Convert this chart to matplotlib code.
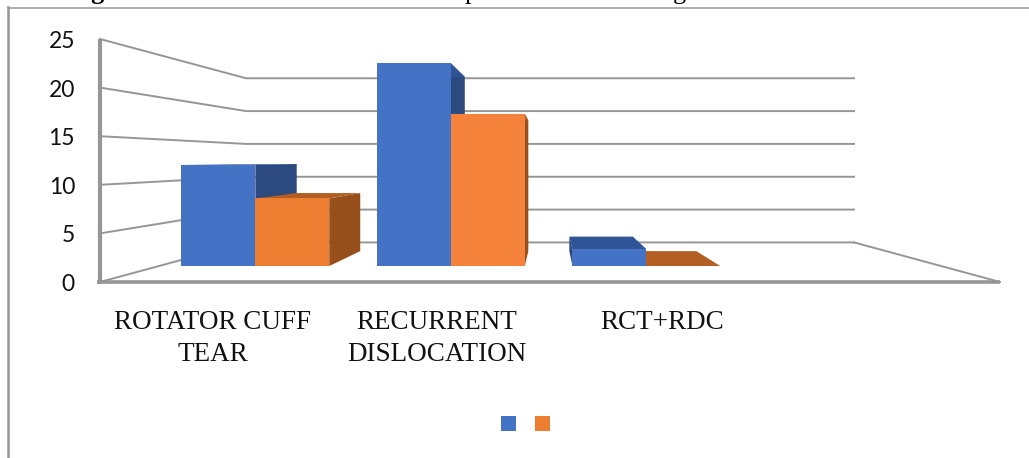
#!/usr/bin/env python3
import matplotlib
matplotlib.use("Agg")
import matplotlib.pyplot as plt
from matplotlib.patches import Polygon, Rectangle

categories = ["ROTATOR CUFF\nTEAR", "RECURRENT\nDISLOCATION", "RCT+RDC"]
series1 = [12, 24, 2]
series2 = [8, 18, 0]
yticks = [0, 5, 10, 15, 20, 25]

BLUE = "#4472C4"
ORANGE = "#ED7D31"
GRID = "#969696"

# one point perspective, everything in figure pixels
VX, VY = 550, 160
X0, X1, Y0 = 100, 1000, 282
UNIT = 9.72
S_BACK = 0.6756
S_FRONT = 0.869
S_REAR = 0.747
NCAT = 4


def proj(x, v, s):
    # x in category units, v in chart units, s = perspective scale
    px = X0 + (X1 - X0) * x / NCAT
    py = Y0 - UNIT * v
    return (VX + (px - VX) * s, VY + (py - VY) * s)


def box(ax, x0, x1, v, face, side, top):
    f = [proj(x0, 0, S_FRONT), proj(x1, 0, S_FRONT), proj(x1, v, S_FRONT), proj(x0, v, S_FRONT)]
    b = [proj(x0, 0, S_REAR), proj(x1, 0, S_REAR), proj(x1, v, S_REAR), proj(x0, v, S_REAR)]
    if f[1][0] < VX:
        ax.add_patch(Polygon([f[1], b[1], b[2], f[2]], fc=side, ec="none", zorder=3))
    if f[0][0] > VX:
        ax.add_patch(Polygon([f[0], b[0], b[3], f[3]], fc=side, ec="none", zorder=3))
    ax.add_patch(Polygon([f[3], f[2], b[2], b[3]], fc=top, ec="none", zorder=3))
    if v > 0:
        ax.add_patch(Polygon(f, fc=face, ec="none", zorder=4))


fig = plt.figure(figsize=(10.29, 4.58), dpi=100)
ax = fig.add_axes([0, 0, 1, 1])
ax.set_xlim(0, 1029)
ax.set_ylim(458, 0)
ax.axis("off")

# page frame
ax.plot([8, 1029], [7.5, 7.5], color=GRID, lw=1.1)
ax.plot([8, 8], [7, 458], color=GRID, lw=1.8)

# tails of the caption line cut off by the crop
ax.text(97, -1, "g", ha="center", va="baseline", fontsize=19, weight="bold", family="Liberation Serif")
ax.text(471, -1, "p", ha="center", va="baseline", fontsize=19, family="Liberation Serif")
ax.text(679, -1, "g", ha="center", va="baseline", fontsize=19, family="Liberation Serif")

# grid on left wall and back wall
for v in yticks:
    a = proj(0, v, 1)
    b = proj(0, v, S_BACK)
    c = proj(NCAT, v, S_BACK)
    ax.plot([a[0], b[0], c[0]], [a[1], b[1], c[1]], color=GRID, lw=1.4, zorder=1)
    ax.text(75, a[1] + 2.5, str(v), ha="right", va="center", fontsize=16.5, family="Lato", color="#111111")
c = proj(NCAT, 0, S_BACK)
d = proj(NCAT, 0, 1)
ax.plot([c[0], d[0]], [c[1], d[1]], color=GRID, lw=1.4, zorder=1)

# axis lines
ax.plot([97, X1], [Y0, Y0], color=GRID, lw=2.6, zorder=2, solid_capstyle="butt")
ax.plot([99.5, 99.5], [Y0 + 2, proj(0, 25, 1)[1]], color=GRID, lw=3, zorder=2, solid_capstyle="butt")

# bars
for i in range(len(categories)):
    mid = i + 0.493
    box(ax, mid - 0.378, mid, series1[i], BLUE, "#2C4A80", "#2F5597")
    orange = "#F4823A" if i == 1 else ORANGE
    box(ax, mid, mid + 0.378, series2[i], orange, "#97501B", "#B35E22")

# category labels
label_x = [213, 437, 662]
for x, lab in zip(label_x, categories):
    ax.text(x, 310, lab, ha="center", va="top", fontsize=19.5, family="Liberation Serif",
            color="#111111", linespacing=1.36)

# legend keys, series have no names
ax.add_patch(Rectangle((501, 416), 15, 15, fc=BLUE, ec="none"))
ax.add_patch(Rectangle((534.5, 416), 15, 15, fc=ORANGE, ec="none"))

fig.savefig("out.png", dpi=100)
